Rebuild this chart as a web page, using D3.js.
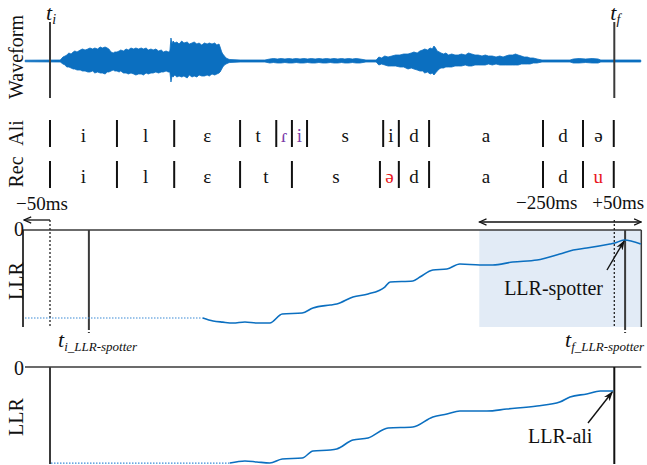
<!DOCTYPE html>
<html>
<head>
<meta charset="utf-8">
<script src="https://cdn.jsdelivr.net/npm/d3@7"></script>
<style>
  html, body { margin: 0; padding: 0; background: #fff; }
  svg text { font-family: "Liberation Serif", "DejaVu Serif", serif; fill: #111; }
</style>
</head>
<body>
<div id="vis"></div>
<script>
// time is in ms, t_i = 0
const tI = 0, tF = 1045;
const tIspot = 72, tFspot = 1065;

// waveform envelope: [ms, upper amplitude, lower amplitude]
const waveEnv = [
  [-46, 0.8, 0.8], [19, 1, 1], [24, 4, 3], [28, 5, 4], [31, 6, 6], [35, 8, 6], [39, 7, 7], [43, 9, 8],
  [46, 10, 8], [50, 9, 9], [56, 11, 9], [60, 12, 10], [65, 11, 10], [70, 12, 11], [74, 13, 11], [79, 12, 10],
  [83, 13, 12], [88, 12, 11], [93, 14, 12], [97, 13, 12], [102, 14, 13], [106, 13, 11], [109, 12, 11], [113, 9, 10],
  [117, 8, 9], [120, 9, 10], [124, 9, 10], [128, 10, 11], [131, 11, 10], [136, 10, 12], [141, 12, 12], [145, 11, 13],
  [150, 13, 12], [155, 12, 13], [159, 13, 14], [164, 12, 13], [169, 13, 13], [173, 12, 14], [178, 13, 12], [182, 11, 13],
  [187, 12, 12], [191, 11, 12], [196, 12, 11], [201, 10, 12], [206, 11, 11], [210, 9, 11], [215, 10, 10], [219, 9, 11],
  [222, 10, 11], [224, 23, 21], [226, 17, 15], [228, 20, 16], [231, 18, 14], [235, 19, 16], [239, 17, 15], [244, 20, 16],
  [248, 18, 15], [254, 19, 17], [258, 17, 14], [263, 18, 16], [267, 19, 15], [272, 17, 16], [276, 18, 14], [281, 16, 15],
  [286, 18, 15], [291, 17, 14], [295, 18, 15], [300, 17, 13], [305, 18, 14], [309, 16, 13], [313, 17, 12], [315, 14, 11],
  [318, 9, 8], [320, 7, 6], [323, 5, 4], [326, 3, 3], [330, 2, 2], [333, 1.5, 1.5], [352, 1, 1], [398, 1, 1],
  [407, 2, 2], [414, 2.5, 1.5], [421, 2, 2], [428, 2.5, 2], [435, 2, 1.5], [442, 2.5, 2], [449, 2, 2], [456, 2.5, 1.5],
  [463, 2, 2], [470, 2.5, 2], [477, 2, 1.5], [484, 2.5, 2], [491, 2, 2], [498, 2.5, 1.5], [505, 2, 2], [512, 2.5, 2],
  [519, 2, 1.5], [526, 2.5, 2], [533, 2, 2], [540, 2.5, 1.5], [546, 2, 2], [553, 2.5, 2], [560, 2, 1.5], [567, 2.5, 2],
  [574, 2, 2], [585, 1, 1], [604, 1, 1], [609, 4, 4], [614, 3, 3], [620, 5, 4], [626, 4, 5], [633, 5, 5],
  [640, 6, 5], [648, 6, 6], [655, 7, 6], [663, 7, 8], [669, 8, 7], [674, 9, 8], [680, 8, 9], [685, 10, 10],
  [690, 11, 10], [694, 12, 12], [699, 11, 11], [704, 13, 13], [708, 12, 12], [711, 15, 14], [714, 13, 12], [717, 10, 10],
  [721, 9, 8], [724, 8, 7], [729, 7, 7], [733, 8, 6], [738, 6, 6], [744, 7, 6], [750, 6, 5], [756, 6, 5],
  [762, 7, 5], [769, 6, 4], [775, 8, 5], [781, 7, 5], [787, 6, 4], [793, 6, 4], [800, 5, 4], [806, 6, 4],
  [812, 5, 3], [819, 5, 4], [826, 4, 3], [833, 5, 4], [839, 4, 4], [844, 5, 4], [850, 6, 4], [857, 6, 4],
  [862, 7, 4], [867, 6, 4], [873, 5, 3], [878, 4, 3], [884, 4, 3], [889, 3, 3], [895, 3, 2], [902, 2, 2],
  [911, 1, 1], [963, 1, 1], [969, 2, 2], [980, 2.5, 2], [992, 2, 1.5], [1004, 2.5, 2], [1015, 2, 2], [1020, 1, 1],
  [1094, 1, 1]
];

// alignment (Ali) and recognition (Rec) phone boundaries in ms
const aliBounds = [0, 124, 230, 352, 419, 448, 476, 617, 646, 702, 913, 987, 1044];
const aliPhones = ["i", "l", "ɛ", "t", "ɾ", "i", "s", "i", "d", "a", "d", "ə"];
const aliMarked = [4, 5];
const recBounds = [0, 124, 230, 352, 448, 611, 646, 702, 913, 987, 1044];
const recPhones = ["i", "l", "ɛ", "t", "s", "ə", "d", "a", "d", "u"];
const recErrors = [5, 9];

// LLR curves
const spotT   = [283, 302, 320, 339, 361, 383, 407, 430, 467, 487, 519, 531, 561, 589, 620, 630, 672, 685, 709, 735, 759, 796, 820, 857, 902, 944, 969, 994, 1037, 1046, 1063, 1094];
const spotLLR = [-9.07, -9.38, -9.5, -9.59, -9.48, -9.59, -9.59, -8.66, -8.56, -8.04, -7.73, -7.63, -6.91, -6.6, -5.88, -5.36, -5.26, -4.85, -4.12, -4.02, -3.51, -3.61, -3.61, -3.3, -3.09, -2.47, -2.06, -1.86, -1.44, -1.34, -1.03, -1.44];
const aliT    = [333, 361, 383, 407, 430, 467, 487, 519, 531, 561, 589, 626, 672, 709, 735, 759, 809, 846, 902, 944, 963, 994, 1019, 1043];
const aliLLR  = [-9.9, -9.69, -9.79, -9.9, -9.48, -9.38, -8.66, -8.56, -8.45, -7.53, -7.32, -6.29, -6.19, -5.15, -4.85, -4.54, -4.54, -4.33, -4.02, -3.61, -3.09, -2.78, -2.47, -2.47];

(function(){
  const width = 647, height = 465;
  const blue = "#0b6fc0", dark = "#3a3a3a";

  const svg = d3.select("#vis").append("svg")
    .attr("width", width).attr("height", height);

  const defs = svg.append("defs");
  defs.append("marker").attr("id", "head")
    .attr("viewBox", "0 0 10 10").attr("refX", 9).attr("refY", 5)
    .attr("markerWidth", 9).attr("markerHeight", 9).attr("orient", "auto-start-reverse")
    .attr("markerUnits", "userSpaceOnUse")
    .append("path").attr("d", "M1,1.5L9,5L1,8.5").attr("fill", "none")
    .attr("stroke", "#111").attr("stroke-width", 1.3);
  defs.append("marker").attr("id", "point")
    .attr("viewBox", "0 0 10 10").attr("refX", 9).attr("refY", 5)
    .attr("markerWidth", 10).attr("markerHeight", 10).attr("orient", "auto")
    .attr("markerUnits", "userSpaceOnUse")
    .append("path").attr("d", "M0,1.5L10,5L0,8.5L3,5Z").attr("fill", "#111");

  // shared time scale
  const x = d3.scaleLinear().domain([-50, 1100]).range([23, 644]);
  const left = x(tI - 50), right = x(tF + 50);

  function vline(t, y1, y2, opts) {
    const l = svg.append("line")
      .attr("x1", x(t)).attr("x2", x(t)).attr("y1", y1).attr("y2", y2)
      .attr("stroke", (opts && opts.color) || dark)
      .attr("stroke-width", (opts && opts.w) || 2);
    if (opts && opts.dash) l.attr("stroke-dasharray", opts.dash);
    return l;
  }
  function rotLabel(txt, cx, cy) {
    svg.append("text").attr("transform", `translate(${cx},${cy}) rotate(-90)`)
      .attr("text-anchor", "middle").attr("font-size", 20).text(txt);
  }
  function tLabel(px, py, sub, big, small) {
    const t = svg.append("text").attr("x", px).attr("y", py)
      .attr("font-style", "italic").attr("font-size", big);
    t.append("tspan").text("t");
    t.append("tspan").attr("font-size", small).attr("dy", 4).text(sub);
  }

  // 1. waveform
  const yw = d3.scaleLinear().domain([-25, 25]).range([86, 36]);
  svg.append("path").datum(waveEnv)
    .attr("d", d3.area().x(d => x(d[0])).y0(d => yw(-d[2])).y1(d => yw(d[1])))
    .attr("fill", blue).attr("stroke", blue).attr("stroke-width", 0.8);
  vline(tI, 22, 98);
  vline(tF, 22, 98);
  tLabel(x(tI) - 4, 20, "i", 22, 14);
  tLabel(x(tF) - 4, 20, "f", 22, 14);
  rotLabel("Waveform", 23, 57);

  // 2. phone rows
  function phoneRow(bounds, phones, marks, markColor, yTop, yBot, yText) {
    bounds.forEach(b => vline(b, yTop, yBot, { color: "#111", w: 2 }));
    phones.forEach((p, i) => {
      svg.append("text")
        .attr("x", x((bounds[i] + bounds[i + 1]) / 2)).attr("y", yText)
        .attr("text-anchor", "middle").attr("font-size", 19)
        .style("fill", marks.includes(i) ? markColor : "#111")
        .text(p);
    });
  }
  phoneRow(aliBounds, aliPhones, aliMarked, "#7a3aa8", 120, 147, 142);
  phoneRow(recBounds, recPhones, recErrors, "#e8141c", 161, 188, 183);
  rotLabel("Ali", 23, 133);
  rotLabel("Rec", 23, 172);

  // 3. margins above the LLR-spotter panel
  svg.append("text").attr("x", 16).attr("y", 210).attr("font-size", 19).text("\u221250ms");
  svg.append("text").attr("x", x(tF - 125)).attr("y", 209).attr("text-anchor", "middle")
    .attr("font-size", 19).text("\u2212250ms");
  svg.append("text").attr("x", x(tF) - 22).attr("y", 209).attr("font-size", 19).text("+50ms");
  svg.append("line").attr("x1", x(tI)).attr("x2", x(tI - 50) + 1).attr("y1", 220).attr("y2", 220)
    .attr("stroke", "#111").attr("stroke-width", 1.3).attr("marker-end", "url(#head)");
  svg.append("line").attr("x1", x(tF - 250)).attr("x2", x(tF + 50)).attr("y1", 222).attr("y2", 222)
    .attr("stroke", "#111").attr("stroke-width", 1.3)
    .attr("marker-start", "url(#head)").attr("marker-end", "url(#head)");

  // 4. LLR-spotter panel
  const y1 = d3.scaleLinear().domain([-10, 0]).range([327, 230]);
  svg.append("rect").attr("x", x(tF - 250)).attr("y", y1(0))
    .attr("width", right - x(tF - 250)).attr("height", y1(-10) - y1(0))
    .attr("fill", "#e2ebf6");
  svg.append("line").attr("x1", left).attr("x2", right).attr("y1", y1(0)).attr("y2", y1(0))
    .attr("stroke", dark).attr("stroke-width", 1.5);
  vline(tI - 50, y1(0), y1(-10));
  vline(tF + 50, y1(0), y1(-10), { w: 1.5 });
  vline(tI, 220, y1(-10), { w: 1.3, dash: "2,2", color: "#222" });
  vline(tF, 220, y1(-10), { w: 1.3, dash: "2,2", color: "#222" });
  vline(tIspot, y1(0), y1(-10));
  vline(tIspot, y1(-10), 333, { dash: "3,2" });
  vline(tFspot, y1(0), y1(-10));
  vline(tFspot, y1(-10), 333, { dash: "3,2" });

  const spot = spotT.map((t, i) => ({ t: t, v: spotLLR[i] }));
  const line1 = d3.line().x(d => x(d.t)).y(d => y1(d.v)).curve(d3.curveMonotoneX);
  svg.append("line").attr("x1", left + 2).attr("x2", x(spot[0].t))
    .attr("y1", y1(spot[0].v)).attr("y2", y1(spot[0].v))
    .attr("stroke", "#3b8ad6").attr("stroke-width", 1.2).attr("stroke-dasharray", "1.5,1.5");
  svg.append("path").datum(spot).attr("d", line1)
    .attr("fill", "none").attr("stroke", blue).attr("stroke-width", 1.6);

  svg.append("text").attr("x", 24).attr("y", 236).attr("text-anchor", "end")
    .attr("font-size", 20).text("0");
  rotLabel("LLR", 23, 281);
  svg.append("text").attr("x", 603).attr("y", 295).attr("text-anchor", "end")
    .attr("font-size", 20).text("LLR-spotter");
  svg.append("line").attr("x1", 607).attr("y1", 270).attr("x2", x(tFspot) - 1).attr("y2", y1(-1.03) + 1)
    .attr("stroke", "#111").attr("stroke-width", 1.4).attr("marker-end", "url(#point)");
  tLabel(58, 347, "i_LLR-spotter", 22, 13);
  tLabel(565, 347, "f_LLR-spotter", 22, 13);

  // 5. LLR-ali panel
  const y2 = d3.scaleLinear().domain([-10, 0]).range([464, 367]);
  svg.append("line").attr("x1", left + 2).attr("x2", right).attr("y1", y2(0)).attr("y2", y2(0))
    .attr("stroke", dark).attr("stroke-width", 1.5);
  vline(tI, y2(0), y2(-10));
  vline(tF, y2(0), y2(-10), { color: "#111" });

  const ali = aliT.map((t, i) => ({ t: t, v: aliLLR[i] }));
  const line2 = d3.line().x(d => x(d.t)).y(d => y2(d.v)).curve(d3.curveMonotoneX);
  svg.append("line").attr("x1", x(tI) + 1).attr("x2", x(ali[0].t))
    .attr("y1", y2(ali[0].v)).attr("y2", y2(ali[0].v))
    .attr("stroke", "#3b8ad6").attr("stroke-width", 1.2).attr("stroke-dasharray", "1.5,1.5");
  svg.append("path").datum(ali).attr("d", line2)
    .attr("fill", "none").attr("stroke", blue).attr("stroke-width", 1.6);

  svg.append("text").attr("x", 24).attr("y", 375).attr("text-anchor", "end")
    .attr("font-size", 20).text("0");
  rotLabel("LLR", 23, 417);
  svg.append("text").attr("x", 528).attr("y", 443).attr("font-size", 20).text("LLR-ali");
  svg.append("line").attr("x1", 588).attr("y1", 423).attr("x2", x(tF) - 2).attr("y2", y2(-2.47) + 1)
    .attr("stroke", "#111").attr("stroke-width", 1.4).attr("marker-end", "url(#point)");
})();
</script>
</body>
</html>
